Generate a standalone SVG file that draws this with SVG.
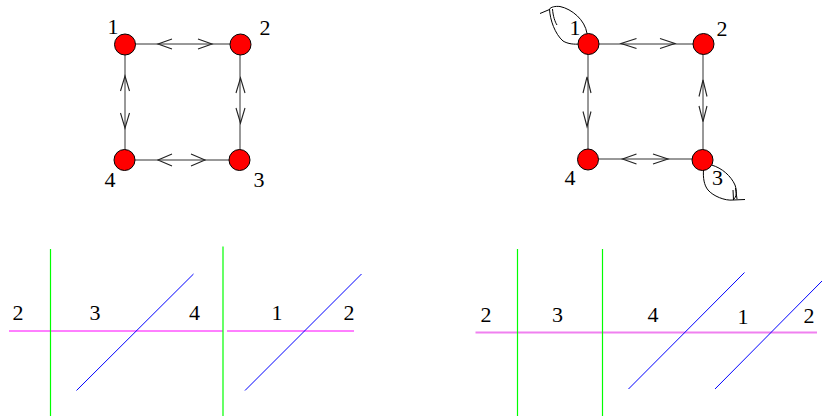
<svg xmlns="http://www.w3.org/2000/svg" width="822" height="416" viewBox="0 0 822 416">
<style>
.edge{stroke:#333;stroke-width:1;fill:none}
.ah{stroke:#222;stroke-width:1.1;fill:none}
.node{fill:#ff0000;stroke:#000;stroke-width:1}
.loop{stroke:#000;stroke-width:1;fill:none}
.mag{stroke:#ff00ff;stroke-width:1}
.vio{stroke:#f080f0;stroke-width:2}
.grn{stroke:#00ff00;stroke-width:1.2}
.blu{stroke:#0000ff;stroke-width:1}
</style>
<rect width="822" height="416" fill="#fff"/>
<g id="connectors">
  <line class="edge" x1="125" y1="44" x2="240" y2="44"/>
  <line class="edge" x1="125" y1="160" x2="240" y2="160"/>
  <line class="edge" x1="125" y1="44" x2="125" y2="160"/>
  <line class="edge" x1="240" y1="44" x2="240" y2="160"/>
  <path class="ah" d="M172,39 L158,44 L172,49 M198,39 L212,44 L198,49"/>
  <path class="ah" d="M172,154 L158,160 L172,166 M191,154 L205,160 L191,166"/>
  <path class="ah" d="M120.5,91 L125,76 L129.5,91 M120.5,113 L125,128 L129.5,113"/>
  <path class="ah" d="M236,93 L240.5,78 L245,93 M236,108 L240.5,123 L245,108"/>
  <line class="edge" x1="588" y1="44" x2="703" y2="44"/>
  <line class="edge" x1="588" y1="159" x2="703" y2="159"/>
  <line class="edge" x1="588" y1="44" x2="588" y2="159"/>
  <line class="edge" x1="703" y1="44" x2="703" y2="159"/>
  <path class="ah" d="M636.5,38.5 L621,43.5 L636.5,48.5 M660,38.5 L675,43.5 L660,48.5"/>
  <path class="ah" d="M636.5,154 L622.5,159 L636.5,164 M653,154 L668,159 L653,164"/>
  <path class="ah" d="M583,93 L587,77 L591,93 M583,111.5 L587,126.5 L591,111.5"/>
  <path class="ah" d="M699,96.5 L703,80 L707,96.5 M699,106 L703,121.5 L707,106"/>
  <path class="loop" d="M587,33.5 C585,20 572,9 560,6.5 C555,6 551,7 549.5,9 C550,20 555,34 563,41 C568,44 574,44.5 580,44"/>
  <path class="loop" d="M549.5,9.5 L540,13.5 M552.5,9 C553,16 555,22 557,25"/>
  <path class="loop" d="M711.5,165 C722,168 731,176 735,185 C737,191 737,197 733,200 C725,201 713,196 708,190 C704,185 703,178 703.5,170"/>
  <path class="loop" d="M733,200 L745,199.5 M733,190 L733.5,200 M735.5,188 L737,199"/>
</g>
<g font-family="Liberation Serif, Times New Roman, serif" font-size="22" text-anchor="middle" fill="#000">
<g id="n1"><circle class="node" cx="125" cy="44.5" r="10.5"/><text x="113" y="34" font-size="22">1</text></g>
<g id="n2"><circle class="node" cx="240.5" cy="44.5" r="10.5"/><text x="265" y="35" font-size="22">2</text></g>
<g id="n3"><circle class="node" cx="239.5" cy="160" r="10.5"/><text x="259" y="187" font-size="22">3</text></g>
<g id="n4"><circle class="node" cx="124.5" cy="160" r="10.5"/><text x="110" y="187" font-size="22">4</text></g>
<g id="m1"><circle class="node" cx="588.5" cy="44" r="10.5"/><text x="575" y="35" font-size="22">1</text></g>
<g id="m2"><circle class="node" cx="703.5" cy="44" r="10.5"/><text x="722" y="36" font-size="22">2</text></g>
<g id="m3"><circle class="node" cx="702.5" cy="160" r="10.5"/><text x="717.5" y="185" font-size="22">3</text></g>
<g id="m4"><circle class="node" cx="588" cy="159.5" r="10.5"/><text x="570" y="185" font-size="22">4</text></g>
<g id="panel-left">
  <line class="mag" x1="9" y1="331" x2="223" y2="331"/>
  <line class="mag" x1="227" y1="331" x2="354" y2="331"/>
  <line class="grn" x1="50.5" y1="249" x2="50.5" y2="416"/>
  <line class="grn" x1="223" y1="246.5" x2="223" y2="416"/>
  <line class="blu" x1="76.5" y1="390.5" x2="193.5" y2="274"/>
  <line class="blu" x1="245" y1="390.5" x2="361.5" y2="274"/>
  <text x="18" y="320" font-size="22">2</text>
  <text x="95" y="320" font-size="22">3</text>
  <text x="194.5" y="320" font-size="22">4</text>
  <text x="277" y="320" font-size="22">1</text>
  <text x="349" y="320" font-size="22">2</text>
</g>
<g id="panel-right">
  <line class="vio" x1="475.5" y1="332.5" x2="817" y2="332.5"/>
  <line class="grn" x1="517.5" y1="249" x2="517.5" y2="416"/>
  <line class="grn" x1="602.5" y1="249" x2="602.5" y2="416"/>
  <line class="blu" x1="628.5" y1="389" x2="744.5" y2="272.5"/>
  <line class="blu" x1="715" y1="389" x2="822" y2="281"/>
  <text x="486" y="322" font-size="22">2</text>
  <text x="557.5" y="322" font-size="22">3</text>
  <text x="653" y="322" font-size="22">4</text>
  <text x="743" y="324" font-size="22">1</text>
  <text x="809" y="323" font-size="22">2</text>
</g>
</g>
</svg>
